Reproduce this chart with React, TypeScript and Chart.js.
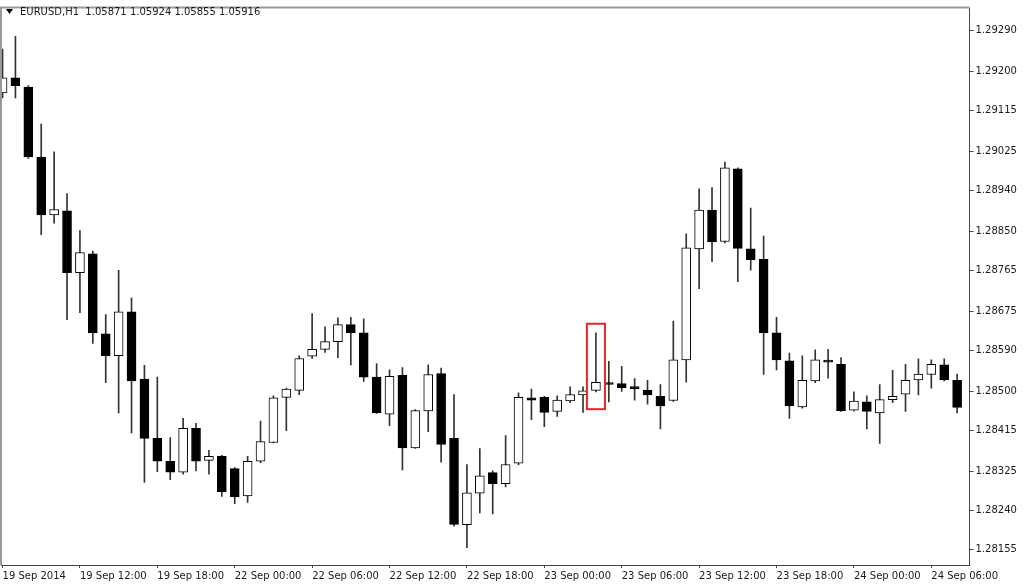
import React, { useRef, useEffect } from 'react';
import { Chart, registerables } from 'chart.js';

Chart.register(...registerables);

const symbolTitle = 'EURUSD,H1';
const quoteValues = ['1.05871', '1.05924', '1.05855', '1.05916'];

// hourly candles, 19 Sep 2014 06:00 onwards
const opens = [
  1.29153, 1.29186, 1.29166, 1.29013, 1.28886, 1.28895, 1.28760, 1.28801, 1.28626, 1.28578,
  1.28674, 1.28527, 1.28397, 1.28347, 1.28323, 1.28419, 1.28349, 1.28358, 1.28331, 1.28271,
  1.28347, 1.28388, 1.28487, 1.28502, 1.28577, 1.28592, 1.28609, 1.28646, 1.28628, 1.28531,
  1.28450, 1.28535, 1.28376, 1.28457, 1.28539, 1.28397, 1.28208, 1.28277, 1.28322, 1.28298,
  1.28343, 1.28486, 1.28487, 1.28456, 1.28479, 1.28492, 1.28502, 1.28518, 1.28517, 1.28509,
  1.28503, 1.28489, 1.28480, 1.28569, 1.28812, 1.28897, 1.28828, 1.28987, 1.28812, 1.28789,
  1.28628, 1.28567, 1.28466, 1.28523, 1.28567, 1.28559, 1.28459, 1.28477, 1.28453, 1.28482,
  1.28494, 1.28525, 1.28537, 1.28558, 1.28524,
];
const highs = [
  1.29249, 1.29277, 1.29169, 1.29085, 1.29024, 1.28933, 1.28852, 1.28807, 1.28668, 1.28765,
  1.28704, 1.28557, 1.28531, 1.28399, 1.28441, 1.28430, 1.28371, 1.28360, 1.28333, 1.28358,
  1.28435, 1.28490, 1.28507, 1.28578, 1.28670, 1.28641, 1.28661, 1.28662, 1.28659, 1.28561,
  1.28547, 1.28552, 1.28460, 1.28558, 1.28551, 1.28493, 1.28340, 1.28375, 1.28326, 1.28403,
  1.28497, 1.28505, 1.28489, 1.28490, 1.28510, 1.28510, 1.28628, 1.28566, 1.28555, 1.28528,
  1.28524, 1.28515, 1.28654, 1.28845, 1.28943, 1.28946, 1.29002, 1.28989, 1.28901, 1.28840,
  1.28662, 1.28584, 1.28578, 1.28591, 1.28592, 1.28574, 1.28499, 1.28490, 1.28515, 1.28546,
  1.28559, 1.28571, 1.28569, 1.28571, 1.28538,
];
const lows = [
  1.29142, 1.29142, 1.29010, 1.28843, 1.28868, 1.28657, 1.28672, 1.28605, 1.28519, 1.28453,
  1.28409, 1.28301, 1.28324, 1.28307, 1.28319, 1.28326, 1.28319, 1.28270, 1.28254, 1.28257,
  1.28344, 1.28387, 1.28414, 1.28493, 1.28572, 1.28585, 1.28574, 1.28558, 1.28522, 1.28452,
  1.28425, 1.28328, 1.28375, 1.28412, 1.28345, 1.28205, 1.28158, 1.28234, 1.28232, 1.28291,
  1.28339, 1.28438, 1.28423, 1.28445, 1.28475, 1.28454, 1.28499, 1.28477, 1.28500, 1.28481,
  1.28472, 1.28418, 1.28478, 1.28520, 1.28725, 1.28784, 1.28825, 1.28740, 1.28765, 1.28537,
  1.28547, 1.28441, 1.28463, 1.28519, 1.28529, 1.28456, 1.28457, 1.28418, 1.28386, 1.28475,
  1.28456, 1.28492, 1.28507, 1.28523, 1.28453,
];
const closes = [
  1.29186, 1.29169, 1.29013, 1.28886, 1.28898, 1.28760, 1.28804, 1.28628, 1.28578, 1.28674,
  1.28523, 1.28397, 1.28347, 1.28323, 1.28419, 1.28347, 1.28358, 1.28280, 1.28269, 1.28347,
  1.28390, 1.28486, 1.28505, 1.28572, 1.28592, 1.28609, 1.28646, 1.28628, 1.28531, 1.28453,
  1.28533, 1.28376, 1.28458, 1.28537, 1.28384, 1.28209, 1.28278, 1.28315, 1.28298, 1.28340,
  1.28487, 1.28481, 1.28454, 1.28481, 1.28493, 1.28501, 1.28520, 1.28515, 1.28508, 1.28506,
  1.28492, 1.28468, 1.28569, 1.28814, 1.28897, 1.28827, 1.28989, 1.28813, 1.28788, 1.28628,
  1.28569, 1.28468, 1.28524, 1.28569, 1.28564, 1.28458, 1.28479, 1.28456, 1.28482, 1.28489,
  1.28524, 1.28538, 1.28559, 1.28525, 1.28465,
];

const timeLabels = [
  '19 Sep 2014', '19 Sep 12:00', '19 Sep 18:00', '22 Sep 00:00', '22 Sep 06:00',
  '22 Sep 12:00', '22 Sep 18:00', '23 Sep 00:00', '23 Sep 06:00', '23 Sep 12:00',
  '23 Sep 18:00', '24 Sep 00:00', '24 Sep 06:00',
];
const timeTickStep = 6;

const priceTicks = [
  1.29290, 1.29200, 1.29115, 1.29025, 1.28940, 1.28850, 1.28765,
  1.28675, 1.28590, 1.28500, 1.28415, 1.28325, 1.28240, 1.28155,
];

// red box drawn round one candle
const highlightBar = 46;
const highlightTop = 1.28648;
const highlightBottom = 1.28461;

const FONT = "'DejaVu Sans', Verdana, sans-serif";
const TEXT_COLOR = '#1a1a1a';
const AXIS_COLOR = '#444444';

const headerPlugin = {
  id: 'header',
  afterDraw(chart: Chart) {
    const ctx = chart.ctx;
    ctx.save();
    ctx.fillStyle = '#000';
    ctx.beginPath();
    ctx.moveTo(6, 9);
    ctx.lineTo(13, 9);
    ctx.lineTo(9.5, 14);
    ctx.closePath();
    ctx.fill();
    ctx.font = `10px ${FONT}`;
    ctx.fillStyle = TEXT_COLOR;
    ctx.textBaseline = 'middle';
    ctx.fillText(`${symbolTitle}  ${quoteValues.join(' ')}`, 20, 12);
    ctx.restore();
  },
};

const framePlugin = {
  id: 'frame',
  afterDatasetsDraw(chart: Chart) {
    const { ctx, chartArea } = chart;
    ctx.save();
    ctx.strokeStyle = '#9a9a9a';
    ctx.lineWidth = 2;
    ctx.beginPath();
    ctx.moveTo(chartArea.left - 0.5, chartArea.bottom);
    ctx.lineTo(chartArea.left - 0.5, chartArea.top - 0.5);
    ctx.lineTo(chartArea.right, chartArea.top - 0.5);
    ctx.stroke();
    ctx.restore();
  },
};

const highlightPlugin = {
  id: 'highlight',
  afterDatasetsDraw(chart: Chart) {
    const { ctx } = chart;
    const xs = chart.scales.x;
    const ys = chart.scales.y;
    const x1 = xs.getPixelForValue(highlightBar - 0.7);
    const x2 = xs.getPixelForValue(highlightBar + 0.7);
    const y1 = ys.getPixelForValue(highlightTop);
    const y2 = ys.getPixelForValue(highlightBottom);
    ctx.save();
    ctx.strokeStyle = '#e2272c';
    ctx.lineWidth = 2;
    ctx.strokeRect(x1, y1, x2 - x1, y2 - y1);
    ctx.restore();
  },
};

const CandleChart: React.FC = () => {
  const chartRef = useRef<HTMLCanvasElement | null>(null);
  const chartInstance = useRef<Chart | null>(null);

  useEffect(() => {
    if (!chartRef.current) return;
    if (chartInstance.current) {
      chartInstance.current.destroy();
    }
    const ctx = chartRef.current.getContext('2d');
    if (!ctx) return;

    const idx = opens.map((_, i) => i);
    const bodyData = idx.map((i) => ({ x: i, y: [opens[i], closes[i]] }));
    const wickData = idx.map((i) => ({ x: i, y: [lows[i], highs[i]] }));
    const bodyColors = idx.map((i) => (closes[i] >= opens[i] ? '#ffffff' : '#000000'));

    chartInstance.current = new Chart(ctx, {
      type: 'bar',
      data: {
        datasets: [
          {
            label: 'body',
            data: bodyData as any,
            backgroundColor: bodyColors,
            borderColor: '#000000',
            borderWidth: 1,
            borderSkipped: false,
            barThickness: 9,
            minBarLength: 2,
            grouped: false,
            order: 0,
          },
          {
            label: 'wick',
            data: wickData as any,
            backgroundColor: '#333333',
            borderWidth: 0,
            barThickness: 1,
            grouped: false,
            order: 1,
          },
        ],
      },
      options: {
        animation: false,
        responsive: true,
        maintainAspectRatio: false,
        layout: { padding: { top: 1.5, left: 1.5, right: 0, bottom: 0 } },
        plugins: {
          legend: { display: false },
          tooltip: { enabled: false },
        },
        scales: {
          x: {
            type: 'linear',
            offset: false,
            min: -0.08,
            max: 74.96,
            afterBuildTicks: (scale: any) => {
              scale.ticks = timeLabels.map((_, k) => ({ value: k * timeTickStep }));
            },
            afterFit: (scale: any) => {
              scale.height = 22;
            },
            grid: { offset: false, drawOnChartArea: false, drawTicks: true, tickLength: 3, color: AXIS_COLOR },
            border: { display: true, color: AXIS_COLOR },
            ticks: {
              autoSkip: false,
              maxRotation: 0,
              align: 'start',
              padding: 2,
              color: TEXT_COLOR,
              font: { family: FONT, size: 10 },
              callback: (_v: any, i: number) => timeLabels[i] ?? '',
            },
          },
          y: {
            type: 'linear',
            position: 'right',
            min: 1.28120,
            max: 1.29339,
            afterBuildTicks: (scale: any) => {
              scale.ticks = priceTicks.map((v) => ({ value: v }));
            },
            afterFit: (scale: any) => {
              scale.width = 54.5;
            },
            grid: { drawOnChartArea: false, drawTicks: true, tickLength: 4, color: AXIS_COLOR },
            border: { display: true, color: AXIS_COLOR },
            ticks: {
              padding: 2,
              color: TEXT_COLOR,
              font: { family: FONT, size: 10 },
              callback: (v: any) => Number(v).toFixed(5),
            },
          },
        },
      },
      plugins: [framePlugin, highlightPlugin, headerPlugin],
    });

    return () => {
      if (chartInstance.current) {
        chartInstance.current.destroy();
        chartInstance.current = null;
      }
    };
  }, []);

  return <canvas ref={chartRef} />;
};

const App: React.FC = () => (
  <div style={{ position: 'fixed', left: 0, top: 0, width: 1024, height: 587, background: '#ffffff' }}>
    <CandleChart />
  </div>
);

export default App;
